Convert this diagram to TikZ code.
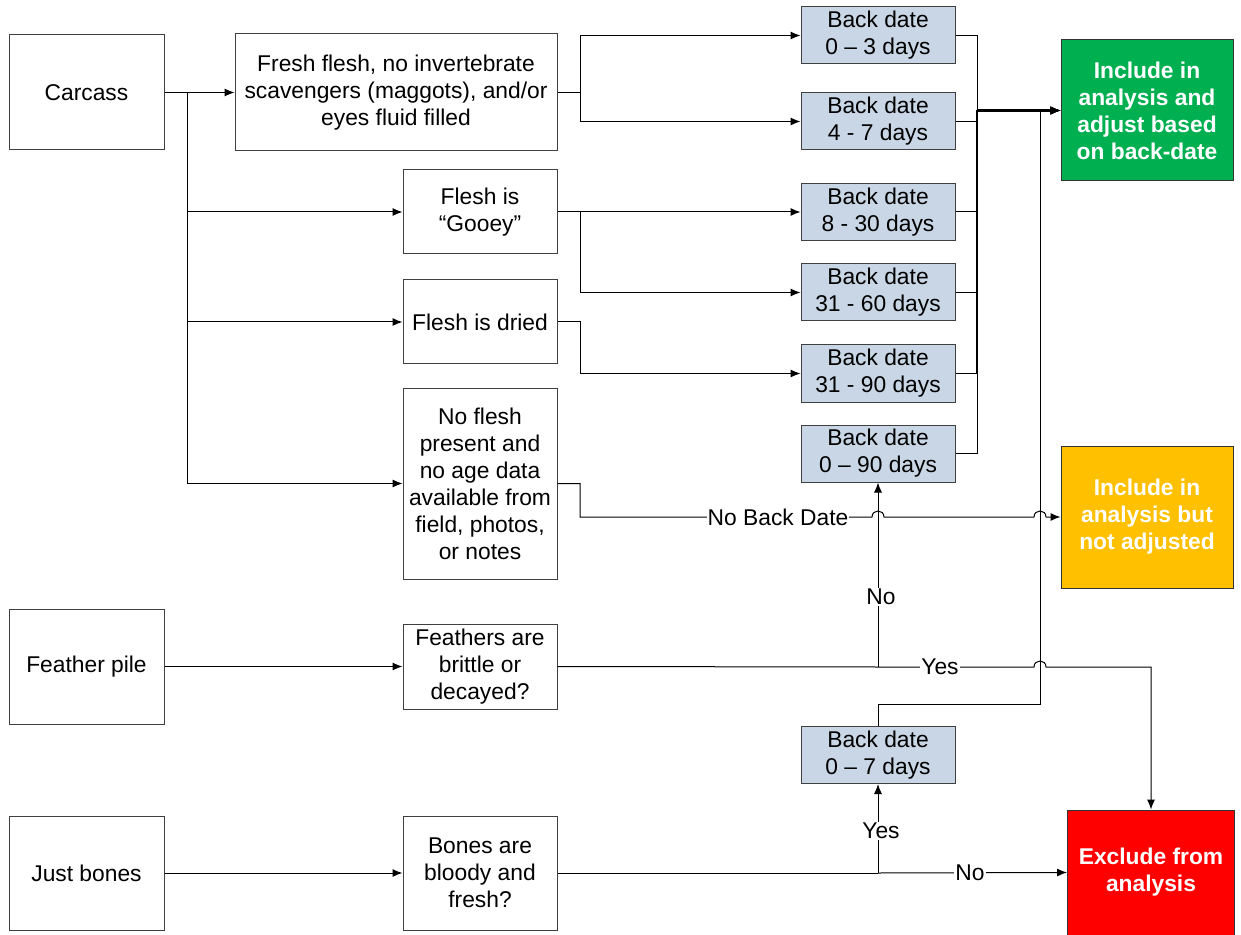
\documentclass[tikz,border=0pt]{standalone}
\usepackage{fontspec}
\setmainfont{Liberation Sans}
\usepackage{tikz}
\usetikzlibrary{arrows.meta,positioning,calc}
\definecolor{dategray}{RGB}{201,214,230}
\definecolor{boxline}{RGB}{64,64,64}
\definecolor{okgreen}{RGB}{0,176,80}
\definecolor{warnyellow}{RGB}{255,192,0}
\definecolor{stopred}{RGB}{255,0,0}

\tikzset{
  box/.style={draw=boxline, fill=white, line width=0.5pt, inner sep=1pt, align=center,
    font=\fontsize{11.4}{13.5}\selectfont},
  datebox/.style={box, fill=dategray, minimum width=77pt, minimum height=28.5pt},
  outbox/.style={box, draw=black!80, text=white, minimum width=86pt, minimum height=70.5pt,
    font=\fontsize{11.4}{13.5}\selectfont\bfseries},
  line/.style={draw=black, line width=0.5pt},
  arr/.style={line, -{Latex[length=5pt,width=4pt]}},
  lbl/.style={fill=white, inner sep=0.5pt, font=\fontsize{11.4}{13.5}\selectfont}
}

\begin{document}
\begin{tikzpicture}[x=0.5pt, y=-0.5pt]
    \useasboundingbox (0,0) rectangle (1241,935);

    % starting points
    \node[box, minimum width=77.5pt, minimum height=57.5pt] (carcass) at (86.5,92.5) {Carcass};
    \node[box, minimum width=77.5pt, minimum height=57.5pt] (feather) at (86.5,666.5) {Feather pile};
    \node[box, minimum width=77.5pt, minimum height=57pt] (bones) at (86.5,873) {Just bones};

    % condition boxes
    \node[box, minimum width=161pt, minimum height=58.5pt] (fresh) at (396,92.5) {Fresh flesh, no invertebrate\\scavengers (maggots), and/or\\eyes fluid filled};
    \node[box, minimum width=77pt, minimum height=42pt] (gooey) at (480,212) {Flesh is\\``Gooey''};
    \node[box, minimum width=77pt, minimum height=42pt] (dried) at (480,322) {Flesh is dried};
    \node[box, minimum width=77pt, minimum height=95.5pt] (noflesh) at (480,483.5) {No flesh\\present and\\no age data\\available from\\field, photos,\\or notes};
    \node[box, minimum width=77pt, minimum height=42.5pt] (brittle) at (480,666.5) {Feathers are\\brittle or\\decayed?};
    \node[box, minimum width=77pt, minimum height=57pt] (bloody) at (480,873) {Bones are\\bloody and\\fresh?};

    % back dates
    \node[datebox] (d03) at (878,35.5) {Back date\\0 -- 3 days};
    \node[datebox] (d47) at (878,121.5) {Back date\\4 - 7 days};
    \node[datebox] (d830) at (878,212) {Back date\\8 - 30 days};
    \node[datebox] (d3160) at (878,292.5) {Back date\\31 - 60 days};
    \node[datebox] (d3190) at (878,373.5) {Back date\\31 - 90 days};
    \node[datebox] (d090) at (878,453.5) {Back date\\0 -- 90 days};
    \node[datebox] (d07) at (878,755) {Back date\\0 -- 7 days};

    % outcomes
    \node[outbox, fill=okgreen] (green) at (1147,110.5) {Include in\\analysis and\\adjust based\\on back-date};
    \node[outbox, fill=warnyellow, minimum height=71pt] (yellow) at (1147,517) {Include in\\analysis but\\not adjusted};
    \node[outbox, fill=stopred, minimum width=83.5pt, minimum height=62.5pt] (red) at (1151,872.5) {Exclude from\\analysis};

    % junctions
    \coordinate (cj) at (187,92.5);
    \coordinate (fj) at (580,92.5);
    \coordinate (gj) at (580,212);
    \coordinate (nj) at (580,517);
    \coordinate (dj) at (977,110.5);
    \coordinate (rj) at (1040,704);
    \coordinate (fy) at (878,667);
    \coordinate (by) at (878,873);

    % carcass branches
    \draw[arr] (carcass.east) -- (fresh.west);
    \draw[line] (cj) -- (187,484);
    \draw[arr] (cj) |- (gooey.west);
    \draw[arr] (cj) |- (dried.west);
    \draw[arr] (cj) |- (noflesh.west);

    \draw[line] (fresh.east) -- (fj);
    \draw[arr] (fj) |- (d03.west);
    \draw[arr] (fj) |- (d47.west);
    \draw[line] (gooey.east) -- (gj);
    \draw[arr] (gj) -- (d830.west);
    \draw[arr] (gj) |- (d3160.west);
    \draw[arr] (dried.east) -- ++(23,0) |- (d3190.west);

    % back dates to green
    \foreach \d in {d03,d47,d830,d3160,d3190,d090}
        \draw[arr] (\d.east) -| (dj) -- (green.west);
    \draw[line, line width=0.8pt] (dj) -- (977,374);
    \draw[line, line width=1.2pt] (dj) -- (977,292);
    \draw[arr, line width=1.2pt] (dj) -- (green.west);
    \draw[arr] (d07.north) |- (rj) |- (green.west);

    % no back date, with hops
    \draw[arr] (noflesh.east) -| (nj) -- (872,517) .. controls (872,509) and (884,509) .. (884,517)
        -- (1034,517) .. controls (1034,509) and (1046,509) .. (1046,517) -- (yellow.west);
    \node[lbl] (nbd) at (778,517) {No Back Date};

    % feathers
    \draw[arr] (feather.east) -- (brittle.west);
    \draw[line] (brittle.east) -- (fy);
    \draw[arr] (fy) -- (d090.south);
    \draw[arr] (fy) -- (1034,667) .. controls (1034,659) and (1046,659) .. (1046,667) -| (red.north);
    \node[lbl] (fno) at (881,597) {No};
    \node[lbl] (fyes) at (940,667) {Yes};

    % bones
    \draw[arr] (bones.east) -- (bloody.west);
    \draw[line] (bloody.east) -- (by);
    \draw[arr] (by) -- (d07.south);
    \draw[arr] (by) -- (red.west);
    \node[lbl] (byes) at (881,831) {Yes};
    \node[lbl] (bno) at (970,873) {No};
\end{tikzpicture}
\end{document}
